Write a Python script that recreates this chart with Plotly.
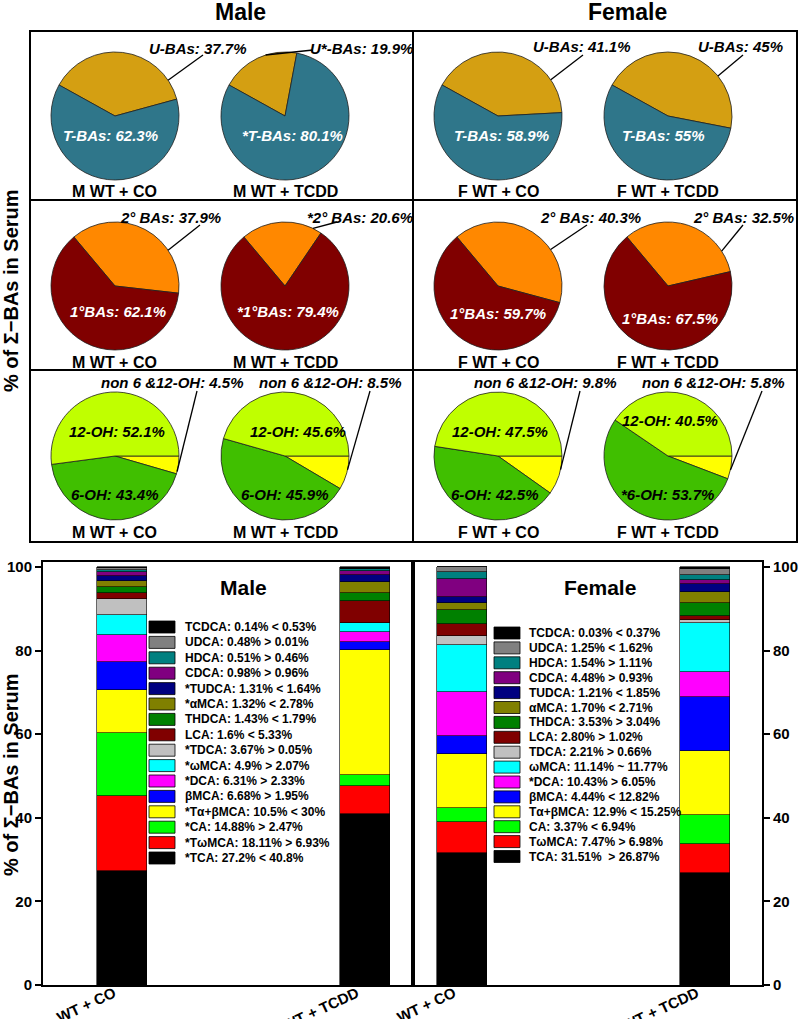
import math
import plotly.graph_objects as go

W, H = 800, 1019
FONT = "Arial, Liberation Sans, sans-serif"


def X(p):
    return p / W


def Y(p):
    return 1 - p / H


# ---------------- pie data ----------------
conditions = ["M WT + CO", "M WT + TCDD", "F WT + CO", "F WT + TCDD"]

u_bas = [37.7, 19.9, 41.1, 45.0]
t_bas = [62.3, 80.1, 58.9, 55.0]
u_labels = ["U-BAs: 37.7%", "U*-BAs: 19.9%", "U-BAs: 41.1%", "U-BAs: 45%"]
t_labels = ["T-BAs: 62.3%", "*T-BAs: 80.1%", "T-BAs: 58.9%", "T-BAs: 55%"]

sec_bas = [37.9, 20.6, 40.3, 32.5]
pri_bas = [62.1, 79.4, 59.7, 67.5]
sec_labels = ["2° BAs: 37.9%", "*2° BAs: 20.6%", "2° BAs: 40.3%", "2° BAs: 32.5%"]
pri_labels = ["1°BAs: 62.1%", "*1°BAs: 79.4%", "1°BAs: 59.7%", "1°BAs: 67.5%"]

non_oh = [4.5, 8.5, 9.8, 5.8]
oh6 = [43.4, 45.9, 42.5, 53.7]
oh12 = [52.1, 45.6, 47.5, 40.5]
non_labels = ["non 6 &12-OH: 4.5%", "non 6 &12-OH: 8.5%",
              "non 6 &12-OH: 9.8%", "non 6 &12-OH: 5.8%"]
oh6_labels = ["6-OH: 43.4%", "6-OH: 45.9%", "6-OH: 42.5%", "*6-OH: 53.7%"]
oh12_labels = ["12-OH: 52.1%", "12-OH: 45.6%", "12-OH: 47.5%", "12-OH: 40.5%"]

# ---------------- bar data (bottom -> top of stack) ----------------
groups = ["WT + CO", "WT + TCDD"]
compounds = ["TCA", "TωMCA", "CA", "Tα+βMCA", "βMCA", "DCA", "ωMCA", "TDCA",
             "LCA", "THDCA", "αMCA", "TUDCA", "CDCA", "HDCA", "UDCA", "TCDCA"]
bar_colors = ["#000000", "#FF0000", "#00FF00", "#FFFF00", "#0000FF", "#FF00FF",
              "#00FFFF", "#C0C0C0", "#800000", "#008000", "#808000", "#000080",
              "#800080", "#008080", "#808080", "#000000"]
male_co = [27.2, 18.11, 14.88, 10.5, 6.68, 6.31, 4.9, 3.67, 1.6, 1.43, 1.32,
           1.31, 0.98, 0.51, 0.48, 0.14]
male_tcdd = [40.8, 6.93, 2.47, 30.0, 1.95, 2.33, 2.07, 0.05, 5.33, 1.79, 2.78,
             1.64, 0.96, 0.46, 0.01, 0.53]
female_co = [31.51, 7.47, 3.37, 12.9, 4.44, 10.43, 11.14, 2.21, 2.80, 3.53,
             1.70, 1.21, 4.48, 1.54, 1.25, 0.03]
female_tcdd = [26.87, 6.98, 6.94, 15.25, 12.82, 6.05, 11.77, 0.66, 1.02, 3.04,
               2.71, 1.85, 0.93, 1.11, 1.62, 0.37]
male_legend = ["*TCA: 27.2% < 40.8%", "*TωMCA: 18.11% > 6.93%", "*CA: 14.88% > 2.47%",
               "*Tα+βMCA: 10.5% < 30%", "βMCA: 6.68% > 1.95%", "*DCA: 6.31% > 2.33%",
               "*ωMCA: 4.9% > 2.07%", "*TDCA: 3.67% > 0.05%", "LCA: 1.6% < 5.33%",
               "THDCA: 1.43% < 1.79%", "*αMCA: 1.32% < 2.78%", "*TUDCA: 1.31% < 1.64%",
               "CDCA: 0.98% > 0.96%", "HDCA: 0.51% > 0.46%", "UDCA: 0.48% > 0.01%",
               "TCDCA: 0.14% < 0.53%"]
female_legend = ["TCA: 31.51%  > 26.87%", "TωMCA: 7.47% > 6.98%", "CA: 3.37% < 6.94%",
                 "Tα+βMCA: 12.9% < 15.25%", "βMCA: 4.44% < 12.82%", "*DCA: 10.43% > 6.05%",
                 "ωMCA: 11.14% ~ 11.77%", "TDCA: 2.21% > 0.66%", "LCA: 2.80% > 1.02%",
                 "THDCA: 3.53% > 3.04%", "αMCA: 1.70% < 2.71%", "TUDCA: 1.21% < 1.85%",
                 "CDCA: 4.48% > 0.93%", "HDCA: 1.54% > 1.11%", "UDCA: 1.25% < 1.62%",
                 "TCDCA: 0.03% < 0.37%"]


def esc(s):
    return s.replace("<", "&lt;").replace(">", "&gt;")


def note(x, y, text, size, color="black", **kw):
    d = dict(x=X(x), y=Y(y), xref="paper", yref="paper", text=text,
             showarrow=False, xanchor="center", yanchor="middle",
             font=dict(size=size, color=color, family=FONT))
    d.update(kw)
    return d


fig = go.Figure()
shapes = []
annotations = []

# ---------------- pies ----------------
pie_cx = [115, 285, 498, 668]
row_cy = [116, 286, 456]
R = 64

rows = [
    dict(vals=[u_bas, t_bas], colors=["#D49F12", "#2F768A"], rot=-61,
         out=u_labels, ins=[(t_labels, "white", [(-5, 19), (7, 19), (4, 19), (-5, 19)])],
         attach=[34, 107.6, 34.4, 38.7],
         text_pos=[(198, 48), (361, 48), (582, 46), (740, 47)],
         anchor=[(203, 55), (313, 50), (583, 55), (743, 55)]),
    dict(vals=[sec_bas, pri_bas], colors=["#FF8800", "#800000"], rot=-40,
         out=sec_labels, ins=[(pri_labels, "white", [(3, 26), (3, 26), (0, 27), (2, 32)])],
         attach=[34, 64, 34.7, 33],
         text_pos=[(170, 217), (360, 217), (590, 217), (743, 217)],
         anchor=[(200, 225), (337, 222), (587, 225), (743, 225)]),
    dict(vals=[non_oh, oh6, oh12], colors=["#FFFF00", "#40BF00", "#C0FF00"], rot=90,
         out=non_labels,
         ins=[(oh12_labels, "black", [(2, -24), (13, -24), (2, -24), (2, -36)]),
              (oh6_labels, "black", [(0, 39), (0, 39), (-3, 39), (-1, 39)])],
         attach=[-14, -12.5, -12.3, -12.7],
         text_pos=[(172, 383), (330, 383), (545, 383), (713, 383)],
         anchor=[(197, 391), (370, 391), (580, 391), (762, 391)]),
]

for r, row in enumerate(rows):
    cy = row_cy[r]
    for p, cx in enumerate(pie_cx):
        fig.add_trace(go.Pie(
            values=[v[p] for v in row["vals"]],
            marker=dict(colors=row["colors"], line=dict(color="#202020", width=0.8)),
            domain=dict(x=[X(cx - R), X(cx + R)], y=[Y(cy + R), Y(cy - R)]),
            sort=False, direction="clockwise", rotation=row["rot"],
            textinfo="none", hoverinfo="none", showlegend=False, automargin=False))
        # inside labels
        for labels, col, offs in row["ins"]:
            dx, dy = offs[p]
            annotations.append(note(cx + dx, cy + dy,
                                    "<b><i>" + labels[p] + "</i></b>", 15, col))
        # outside label + leader line
        tx, ty = row["text_pos"][p]
        annotations.append(note(tx, ty, "<b><i>" + row["out"][p] + "</i></b>", 15))
        ang = math.radians(row["attach"][p])
        px_, py_ = cx + R * math.cos(ang), cy - R * math.sin(ang)
        ax_, ay_ = row["anchor"][p]
        shapes.append(dict(type="line", xref="paper", yref="paper",
                           x0=X(px_), y0=Y(py_), x1=X(ax_), y1=Y(ay_),
                           line=dict(color="black", width=1.3), layer="above"))
        # condition label
        annotations.append(note(cx, cy + 76, "<b>" + conditions[p] + "</b>", 16))

# top box frame
box_l, box_r, box_t, box_b = 30, 797, 31, 542
shapes.append(dict(type="rect", xref="paper", yref="paper",
                   x0=X(box_l), x1=X(box_r), y0=Y(box_b), y1=Y(box_t),
                   line=dict(color="black", width=2), layer="above"))
shapes.append(dict(type="line", xref="paper", yref="paper",
                   x0=X(413), x1=X(413), y0=Y(box_b), y1=Y(box_t),
                   line=dict(color="black", width=2), layer="above"))
for yy in (200, 370):
    shapes.append(dict(type="line", xref="paper", yref="paper",
                       x0=X(box_l), x1=X(box_r), y0=Y(yy), y1=Y(yy),
                       line=dict(color="black", width=2), layer="above"))

# ---------------- bars ----------------
for i, comp in enumerate(compounds):
    fig.add_trace(go.Bar(
        x=groups, y=[male_co[i], male_tcdd[i]], name=comp,
        marker=dict(color=bar_colors[i], line=dict(color="black", width=0.6)),
        width=0.206, xaxis="x", yaxis="y", showlegend=False, hoverinfo="none"))
    fig.add_trace(go.Bar(
        x=groups, y=[female_co[i], female_tcdd[i]], name=comp,
        marker=dict(color=bar_colors[i], line=dict(color="black", width=0.6)),
        width=0.206, xaxis="x2", yaxis="y2", showlegend=False, hoverinfo="none"))

# manual legends
n = len(compounds)
for j in range(n):
    i = n - 1 - j
    for (rx0, tx0, y0, step, labels) in ((149, 183, 627, 15.4, male_legend),
                                          (494, 527, 633, 14.9, female_legend)):
        yc = y0 + j * step
        shapes.append(dict(type="rect", xref="paper", yref="paper",
                           x0=X(rx0), x1=X(rx0 + 26), y0=Y(yc + 6), y1=Y(yc - 6),
                           fillcolor=bar_colors[i], line=dict(color="black", width=0.8),
                           layer="above"))
        annotations.append(note(tx0, yc, "<b>" + esc(labels[i]) + "</b>", 12,
                                xanchor="left"))

# titles
for txt, x, y, sz in (("Male", 240, 12, 23), ("Female", 627, 12, 23),
                      ("Male", 243, 587, 21), ("Female", 600, 587, 21)):
    annotations.append(note(x, y, "<b>" + txt + "</b>", sz))
for yc in (291, 775):
    annotations.append(note(11, yc, "<b>% of Σ−BAs in Serum</b>", 20, textangle=-90))

axis_common = dict(showline=True, linecolor="black", linewidth=2, mirror=True,
                   showgrid=False, zeroline=False, automargin=False)
yax = dict(range=[0, 101.2], dtick=20, ticks="outside", ticklen=6, tickwidth=2,
           tickcolor="black", domain=[Y(985), Y(562)],
           tickfont=dict(size=15, color="black", family=FONT, weight="bold"),
           **axis_common)
xax = dict(type="category", tickangle=-25, ticks="",
           ticklabelstandoff=-8, ticklabelshift=-8,
           tickfont=dict(size=15, color="black", family=FONT, weight="bold"),
           **axis_common)

fig.update_layout(
    width=W, height=H,
    margin=dict(l=0, r=0, t=0, b=0, autoexpand=False),
    paper_bgcolor="white", plot_bgcolor="white",
    barmode="stack", bargap=0,
    xaxis=dict(domain=[X(43), X(413)], range=[-0.325, 1.1975], anchor="y", **xax),
    xaxis2=dict(domain=[X(413), X(762)], range=[-0.2016, 1.2346], anchor="y2", **xax),
    yaxis=dict(anchor="x", side="left", **yax),
    yaxis2=dict(anchor="x2", side="right", **yax),
    shapes=shapes, annotations=annotations,
    font=dict(family=FONT, color="black"),
)

fig.write_html("out.html",
               config={"displayModeBar": False},
               post_script="document.body.style.margin='0px';"
                           "document.body.style.overflow='hidden';")
